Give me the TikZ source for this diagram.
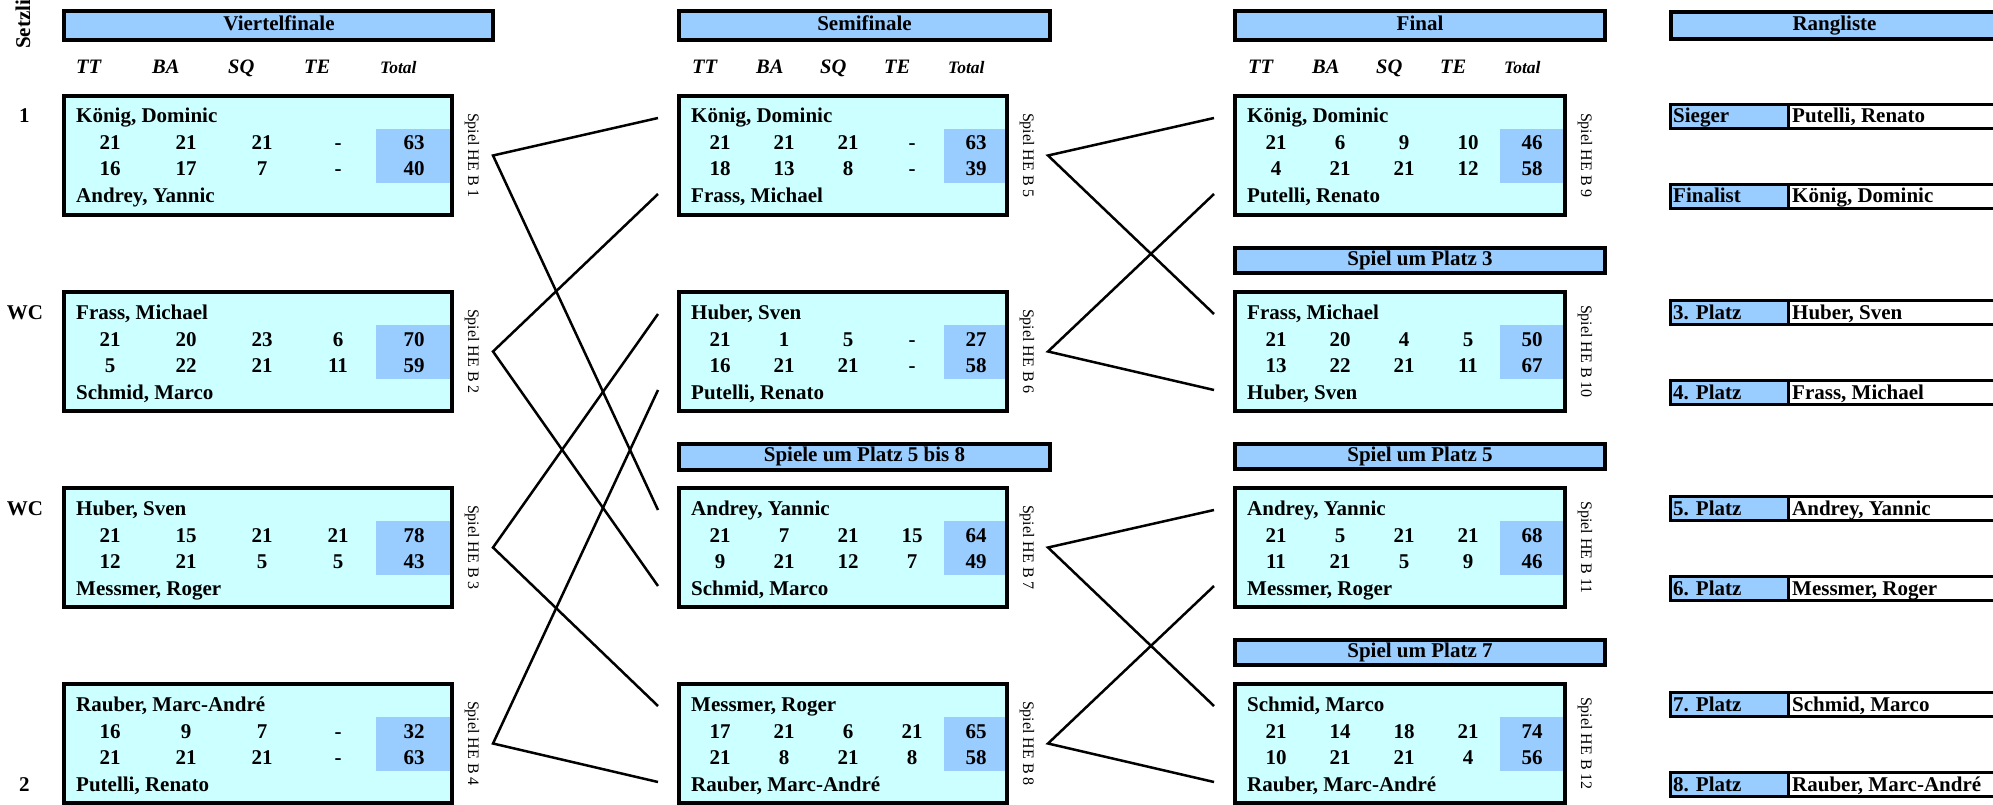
\documentclass[tikz,border=0pt]{standalone}
\usepackage{fontspec}
\setmainfont{Liberation Serif}
\definecolor{boxfill}{HTML}{CCFFFF}
\definecolor{hdrfill}{HTML}{99CCFF}
\tikzset{
 hdrbar/.style={draw=black, line width=4pt, fill=hdrfill},
 nametext/.style={font=\fontsize{21}{24}\selectfont\bfseries, anchor=base west, inner sep=0pt},
 scoretext/.style={font=\fontsize{21}{24}\selectfont\bfseries, anchor=base, inner sep=0pt},
 hdrtext/.style={font=\fontsize{21}{24}\selectfont\bfseries, anchor=base, inner sep=0pt},
 colhead/.style={font=\fontsize{20.5}{24}\selectfont\bfseries\itshape, anchor=base west, inner sep=0pt},
 colheadsmall/.style={font=\fontsize{17.5}{20}\selectfont\bfseries\itshape, anchor=base west, inner sep=0pt},
 spiellabel/.style={font=\fontsize{16}{18}\selectfont, rotate=-90, inner sep=0pt},
 link/.style={draw=black, line width=2.5pt, line join=miter},
 rankcell/.style={draw=black, line width=3pt},
}
\def\setcol#1#2#3#4{\def\bL{#1}\def\bR{#2}\def\cO{#3}\def\cW{#4}}
% #1 id, #2 top, #3 name1, #4 name2, #5 row1, #6 row2, #7 game number
\newcommand\Spielbox[7]{%
 \fill[boxfill] (\bL,#2) rectangle (\bR,#2+123);
 \fill[hdrfill] (\cO+3.5*\cW,#2+35) rectangle (\bR-2,#2+89);
 \draw[line width=4pt] (\bL+2,#2+2) rectangle (\bR-2,#2+121);
 \node[nametext] (#1n1) at (\bL+14,#2+29) {#3};
 \node[nametext] (#1n2) at (\bL+14,#2+109) {#4};
 \foreach \v [count=\i from 0] in {#5} \node[scoretext] (#1a\i) at (\cO+\i*\cW,#2+56) {\v};
 \foreach \v [count=\i from 0] in {#6} \node[scoretext] (#1b\i) at (\cO+\i*\cW,#2+82) {\v};
 \node[spiellabel] (#1lab) at (\bR+18,#2+61.5) {Spiel HE B #7};
 \coordinate (#1v) at (\bR+39,#2+61.5);
 \coordinate (#1in1) at (\bL-19,#2+24);
 \coordinate (#1in2) at (\bL-19,#2+100);
}
\newcommand\ColHeads{%
 \foreach \t [count=\i from 0] in {TT,BA,SQ,TE} \node[colhead] at (\cO-\cW/2+4+\i*\cW,74) {\t};
 \node[colheadsmall] at (\cO+3.5*\cW+4,74) {Total};
}
% #1 id, #2 baseline, #3 label, #4 name
\newcommand\Rang[4]{%
 \draw[rankcell, fill=hdrfill] (1670.5,#2-18.5) rectangle (1788,#2+5.5);
 \draw[rankcell, fill=white] (1788,#2-18.5) rectangle (2010,#2+5.5);
 \node[nametext] (#1l) at (1673,#2) {#3};
 \node[nametext] (#1n) at (1792,#2) {#4};
}
\begin{document}
\begin{tikzpicture}[x=1pt,y=-1pt]
\useasboundingbox (0,0) rectangle (1993,805);
\fill[white] (0,0) rectangle (1993,805);

% Setzliste + seeds
\node[font=\fontsize{21}{24}\selectfont\bfseries, rotate=90, anchor=base west, inner sep=0pt] (setz) at (30,49) {Setzliste};
\node[scoretext] (seed1) at (24.5,123) {1};
\node[scoretext] (seed2) at (25,319) {WC};
\node[scoretext] (seed3) at (25,515) {WC};
\node[scoretext] (seed4) at (24.5,791) {2};

% Column 1
\setcol{62}{454}{110}{76}
\draw[hdrbar] (64,11) rectangle (493,40);
\node[hdrtext] (h1) at (279,31) {Viertelfinale};
\ColHeads
\Spielbox{a1}{94}{König, Dominic}{Andrey, Yannic}{21,21,21,-,63}{16,17,7,-,40}{1}
\Spielbox{a2}{290}{Frass, Michael}{Schmid, Marco}{21,20,23,6,70}{5,22,21,11,59}{2}
\Spielbox{a3}{486}{Huber, Sven}{Messmer, Roger}{21,15,21,21,78}{12,21,5,5,43}{3}
\Spielbox{a4}{682}{Rauber, Marc-André}{Putelli, Renato}{16,9,7,-,32}{21,21,21,-,63}{4}

% Column 2
\setcol{677}{1009}{720}{64}
\draw[hdrbar] (679,11) rectangle (1050,40);
\node[hdrtext] (h2) at (864.5,31) {Semifinale};
\ColHeads
\Spielbox{b1}{94}{König, Dominic}{Frass, Michael}{21,21,21,-,63}{18,13,8,-,39}{5}
\Spielbox{b2}{290}{Huber, Sven}{Putelli, Renato}{21,1,5,-,27}{16,21,21,-,58}{6}
\draw[hdrbar] (679,444) rectangle (1050,470);
\node[hdrtext] (h2b) at (864.5,461) {Spiele um Platz 5 bis 8};
\Spielbox{b3}{486}{Andrey, Yannic}{Schmid, Marco}{21,7,21,15,64}{9,21,12,7,49}{7}
\Spielbox{b4}{682}{Messmer, Roger}{Rauber, Marc-André}{17,21,6,21,65}{21,8,21,8,58}{8}

% Column 3
\setcol{1233}{1567}{1276}{64}
\draw[hdrbar] (1235,11) rectangle (1605,40);
\node[hdrtext] (h3) at (1420,31) {Final};
\ColHeads
\Spielbox{c1}{94}{König, Dominic}{Putelli, Renato}{21,6,9,10,46}{4,21,21,12,58}{9}
\draw[hdrbar] (1235,248) rectangle (1605,273);
\node[hdrtext] (h3b) at (1420,265) {Spiel um Platz 3};
\Spielbox{c2}{290}{Frass, Michael}{Huber, Sven}{21,20,4,5,50}{13,22,21,11,67}{10}
\draw[hdrbar] (1235,444) rectangle (1605,469);
\node[hdrtext] (h3c) at (1420,461) {Spiel um Platz 5};
\Spielbox{c3}{486}{Andrey, Yannic}{Messmer, Roger}{21,5,21,21,68}{11,21,5,9,46}{11}
\draw[hdrbar] (1235,640) rectangle (1605,665);
\node[hdrtext] (h3d) at (1420,657) {Spiel um Platz 7};
\Spielbox{c4}{682}{Schmid, Marco}{Rauber, Marc-André}{21,14,18,21,74}{10,21,21,4,56}{12}

% Rangliste
\draw[hdrbar] (1671,12) rectangle (2010,39);
\node[hdrtext] (h4) at (1834.5,31) {Rangliste};
\Rang{r1}{123}{Sieger}{Putelli, Renato}
\Rang{r2}{203}{Finalist}{König, Dominic}
\Rang{r3}{319}{3. Platz}{Huber, Sven}
\Rang{r4}{399}{4. Platz}{Frass, Michael}
\Rang{r5}{515}{5. Platz}{Andrey, Yannic}
\Rang{r6}{595}{6. Platz}{Messmer, Roger}
\Rang{r7}{711}{7. Platz}{Schmid, Marco}
\Rang{r8}{791}{8. Platz}{Rauber, Marc-André}

% Connectors
\draw[link] (b1in1) -- (a1v) -- (b3in1);
\draw[link] (b1in2) -- (a2v) -- (b3in2);
\draw[link] (b2in1) -- (a3v) -- (b4in1);
\draw[link] (b2in2) -- (a4v) -- (b4in2);
\draw[link] (c1in1) -- (b1v) -- (c2in1);
\draw[link] (c1in2) -- (b2v) -- (c2in2);
\draw[link] (c3in1) -- (b3v) -- (c4in1);
\draw[link] (c3in2) -- (b4v) -- (c4in2);
\end{tikzpicture}
\end{document}
